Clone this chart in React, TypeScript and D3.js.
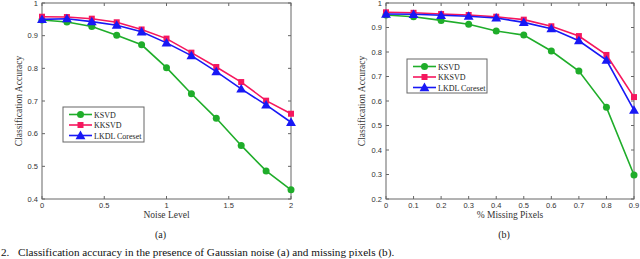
import { useEffect, useRef } from "react";
import * as d3 from "d3";

// Panel (a): noise level
const noiseLevels = [0, 0.2, 0.4, 0.6, 0.8, 1.0, 1.2, 1.4, 1.6, 1.8, 2.0];
const noiseKsvd = [0.948, 0.942, 0.928, 0.901, 0.872, 0.802, 0.722, 0.647, 0.564, 0.486, 0.428];
const noiseKksvd = [0.958, 0.957, 0.952, 0.941, 0.919, 0.891, 0.848, 0.804, 0.758, 0.701, 0.661];
const noiseLkdl = [0.95, 0.952, 0.943, 0.932, 0.912, 0.878, 0.839, 0.79, 0.737, 0.688, 0.635];
const noiseXTicks = [0, 0.5, 1, 1.5, 2];
const noiseYTicks = [0.4, 0.5, 0.6, 0.7, 0.8, 0.9, 1];

// Panel (b): missing pixels
const missingFrac = [0, 0.1, 0.2, 0.3, 0.4, 0.5, 0.6, 0.7, 0.8, 0.9];
const missingKsvd = [0.951, 0.944, 0.929, 0.913, 0.886, 0.869, 0.804, 0.722, 0.574, 0.298];
const missingKksvd = [0.962, 0.96, 0.955, 0.951, 0.944, 0.932, 0.905, 0.865, 0.788, 0.616];
const missingLkdl = [0.955, 0.954, 0.95, 0.946, 0.939, 0.921, 0.895, 0.846, 0.767, 0.563];
const missingXTicks = [0, 0.1, 0.2, 0.3, 0.4, 0.5, 0.6, 0.7, 0.8, 0.9];
const missingYTicks = [0.2, 0.3, 0.4, 0.5, 0.6, 0.7, 0.8, 0.9, 1];

const seriesNames = ["KSVD", "KKSVD", "LKDL Coreset"];
const seriesColors = ["#1fad2a", "#f5175e", "#1818f5"];
const seriesMarkers = ["circle", "square", "triangle"];

const serif = "'Liberation Serif', 'Times New Roman', serif";
const sans = "'Liberation Sans', Arial, sans-serif";

function drawMarker(g, kind, x, y, color) {
    if (kind === "circle") {
        g.append("circle").attr("cx", x).attr("cy", y).attr("r", 3.5).attr("fill", color);
    } else if (kind === "square") {
        g.append("rect").attr("x", x - 3).attr("y", y - 3).attr("width", 6).attr("height", 6).attr("fill", color);
    } else {
        const s = d3.symbol().type(d3.symbolTriangle).size(42);
        g.append("path").attr("transform", `translate(${x},${y + 0.8})`).attr("d", s()).attr("fill", color);
    }
}

function drawPanel(svg, opts) {
    const { left, right, top, bottom, xDomain, yDomain, xTicks, yTicks, xs, series, xLabel, panelLabel, legend, yLabelX } = opts;
    const x = d3.scaleLinear().domain(xDomain).range([left, right]);
    const y = d3.scaleLinear().domain(yDomain).range([bottom, top]);
    const g = svg.append("g");
    const axisColor = "#666";

    // box
    g.append("rect").attr("x", left).attr("y", top).attr("width", right - left).attr("height", bottom - top)
        .attr("fill", "none").attr("stroke", axisColor).attr("stroke-width", 1);

    // inward ticks
    xTicks.forEach(t => {
        g.append("line").attr("x1", x(t)).attr("x2", x(t)).attr("y1", bottom).attr("y2", bottom - 3).attr("stroke", axisColor);
        g.append("line").attr("x1", x(t)).attr("x2", x(t)).attr("y1", top).attr("y2", top + 3).attr("stroke", axisColor);
        g.append("text").attr("x", x(t)).attr("y", bottom + 9).attr("text-anchor", "middle")
            .attr("font-family", sans).attr("font-size", 7.5).attr("fill", "#333").text(d3.format("~g")(t));
    });
    yTicks.forEach(t => {
        g.append("line").attr("x1", left).attr("x2", left + 3).attr("y1", y(t)).attr("y2", y(t)).attr("stroke", axisColor);
        g.append("line").attr("x1", right).attr("x2", right - 3).attr("y1", y(t)).attr("y2", y(t)).attr("stroke", axisColor);
        g.append("text").attr("x", left - 4).attr("y", y(t) + 2.5).attr("text-anchor", "end")
            .attr("font-family", sans).attr("font-size", 7.5).attr("fill", "#333").text(d3.format("~g")(t));
    });

    // lines and markers
    const line = d3.line().x((d, i) => x(xs[i])).y(d => y(d));
    series.forEach((vals, si) => {
        g.append("path").datum(vals).attr("d", line).attr("fill", "none")
            .attr("stroke", seriesColors[si]).attr("stroke-width", 1.6);
        vals.forEach((v, i) => drawMarker(g, seriesMarkers[si], x(xs[i]), y(v), seriesColors[si]));
    });

    // labels
    g.append("text").attr("x", (left + right) / 2).attr("y", bottom + 19).attr("text-anchor", "middle")
        .attr("font-family", serif).attr("font-size", 9.5).attr("fill", "#333").text(xLabel);
    g.append("text").attr("transform", `translate(${yLabelX},${(top + bottom) / 2}) rotate(-90)`)
        .attr("text-anchor", "middle").attr("font-family", serif).attr("font-size", 9.5).attr("fill", "#333")
        .text("Classification Accuracy");
    g.append("text").attr("x", (left + right) / 2 - 6).attr("y", bottom + 39).attr("text-anchor", "middle")
        .attr("font-family", serif).attr("font-size", 10).attr("fill", "#222").text(panelLabel);

    // legend
    const lg = g.append("g");
    lg.append("rect").attr("x", legend.x).attr("y", legend.y).attr("width", legend.w).attr("height", legend.h)
        .attr("fill", "#fff").attr("stroke", axisColor);
    seriesNames.forEach((name, si) => {
        const ry = legend.y + 7.5 + si * 10.5;
        lg.append("line").attr("x1", legend.x + 6).attr("x2", legend.x + 29).attr("y1", ry).attr("y2", ry)
            .attr("stroke", seriesColors[si]).attr("stroke-width", 1.6);
        drawMarker(lg, seriesMarkers[si], legend.x + 17.5, ry, seriesColors[si]);
        lg.append("text").attr("x", legend.x + 31).attr("y", ry + 3).attr("font-family", serif)
            .attr("font-size", 8).attr("fill", "#222").text(name);
    });
}

export default function App() {
    const ref = useRef(null);

    useEffect(() => {
        const svg = d3.select(ref.current);
        svg.selectAll("*").remove();
        svg.append("rect").attr("width", 640).attr("height", 259).attr("fill", "#fff");

        drawPanel(svg, {
            left: 42, right: 291, top: 3, bottom: 199,
            xDomain: [0, 2], yDomain: [0.4, 1],
            xTicks: noiseXTicks, yTicks: noiseYTicks, xs: noiseLevels,
            series: [noiseKsvd, noiseKksvd, noiseLkdl],
            xLabel: "Noise Level", panelLabel: "(a)", yLabelX: 22,
            legend: { x: 63, y: 107, w: 81, h: 35 },
        });
        drawPanel(svg, {
            left: 386, right: 634, top: 3, bottom: 199,
            xDomain: [0, 0.9], yDomain: [0.2, 1],
            xTicks: missingXTicks, yTicks: missingYTicks, xs: missingFrac,
            series: [missingKsvd, missingKksvd, missingLkdl],
            xLabel: "% Missing Pixels", panelLabel: "(b)", yLabelX: 365,
            legend: { x: 407, y: 59, w: 80, h: 34 },
        });

        // figure caption
        svg.append("text").attr("x", 1).attr("y", 255.5).attr("font-family", serif).attr("font-size", 11.2)
            .attr("fill", "#111").text("2.");
        svg.append("text").attr("x", 18).attr("y", 255.5).attr("font-family", serif).attr("font-size", 11.2)
            .attr("fill", "#111").text("Classification accuracy in the presence of Gaussian noise (a) and missing pixels (b).");
    }, []);

    return (
        <svg ref={ref} width={640} height={259} style={{ position: "absolute", left: 0, top: 0 }}></svg>
    );
}
